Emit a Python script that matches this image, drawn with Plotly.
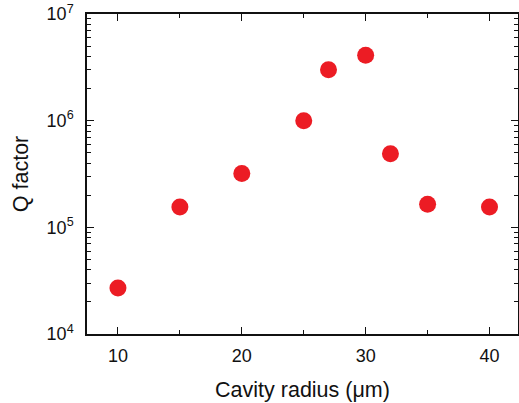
import plotly.graph_objects as go

radius = [10, 15, 20, 25, 27, 30, 32, 35, 40]
qfactor = [2.7e4, 1.55e5, 3.2e5, 1.0e6, 3.0e6, 4.1e6, 4.9e5, 1.65e5, 1.55e5]

ytickvals = [1e4, 1e5, 1e6, 1e7]
yticktext = ["10<sup>4</sup>", "10<sup>5</sup>", "10<sup>6</sup>", "10<sup>7</sup>"]
xtickvals = [10, 20, 30, 40]
xminor = [15, 25, 35]

fig = go.Figure(go.Scatter(
    x=radius, y=qfactor, mode="markers",
    marker=dict(size=17, color="#ec1c24", line=dict(width=0)),
))

font = dict(family="Liberation Sans, Arial, sans-serif", size=19, color="#111")

fig.update_layout(
    width=519, height=403,
    margin=dict(l=87, r=1, t=14, b=69, autoexpand=False),
    paper_bgcolor="white", plot_bgcolor="white",
    showlegend=False, font=font,
)
fig.update_xaxes(
    range=[7.5, 42.3], tickvals=xtickvals, ticks="inside", ticklen=7,
    tickcolor="#111", showline=True, linecolor="#111", linewidth=1.5,
    mirror="ticks", showgrid=False, zeroline=False, ticklabelstandoff=5,
    tickfont=dict(size=18),
    minor=dict(tickvals=xminor, ticks="inside", ticklen=4, tickcolor="#111", showgrid=False),
    title=dict(text="Cavity radius (μm)", standoff=17, font=dict(size=21.5)),
    automargin=False,
)
fig.update_yaxes(
    type="log", range=[4, 7], tickvals=ytickvals, ticktext=yticktext,
    ticks="inside", ticklen=7, tickcolor="#111", showline=True,
    linecolor="#111", linewidth=1.5, mirror="ticks", showgrid=False,
    zeroline=False, ticklabelstandoff=8, tickfont=dict(size=18),
    minor=dict(ticks="inside", ticklen=4, tickcolor="#111", showgrid=False, dtick="D1"),
    title=dict(text="Q factor", standoff=12, font=dict(size=21.5)),
    automargin=False,
)
fig.write_html("out.html")
